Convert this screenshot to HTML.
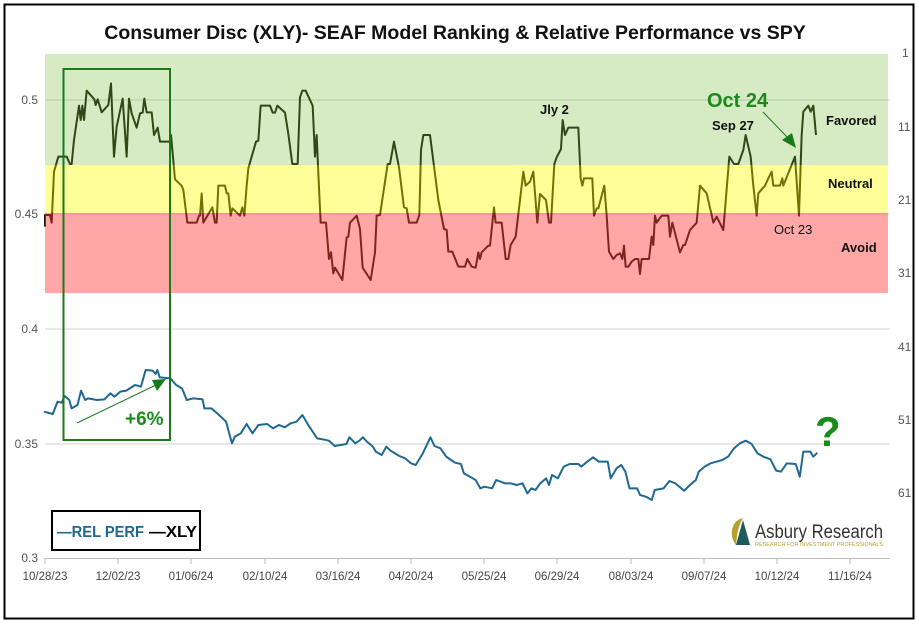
<!DOCTYPE html>
<html><head><meta charset="utf-8"><style>
body{margin:0;background:#fff;}
svg{display:block;font-family:"Liberation Sans",sans-serif;}
</style></head><body>
<svg width="919" height="624" viewBox="0 0 919 624" xmlns="http://www.w3.org/2000/svg">
<rect x="0" y="0" width="919" height="624" fill="#fff"/>
<rect x="4.5" y="4.5" width="909" height="614" fill="none" stroke="#000" stroke-width="2"/>
<text x="455" y="39" text-anchor="middle" font-size="19.5" font-weight="bold" fill="#111">Consumer Disc (XLY)- SEAF Model Ranking &amp; Relative Performance vs SPY</text>
<!-- gridlines -->
<g stroke="#d0d0d0" stroke-width="1">
<line x1="45" y1="100" x2="890" y2="100"/>
<line x1="45" y1="214" x2="890" y2="214"/>
<line x1="45" y1="329" x2="890" y2="329"/>
<line x1="45" y1="444" x2="890" y2="444"/>
<line x1="45" y1="558.5" x2="890" y2="558.5" stroke="#bbb"/>
</g>
<g font-size="12" fill="#555">
<text x="38" y="104" text-anchor="end">0.5</text>
<text x="38" y="218" text-anchor="end">0.45</text>
<text x="38" y="333" text-anchor="end">0.4</text>
<text x="38" y="448" text-anchor="end">0.35</text>
<text x="38" y="562" text-anchor="end">0.3</text>
<text x="902" y="57">1</text>
<text x="898" y="131">11</text>
<text x="898" y="204">21</text>
<text x="898" y="277">31</text>
<text x="898" y="351">41</text>
<text x="898" y="424">51</text>
<text x="898" y="497">61</text>
</g>
<g font-size="11.5" fill="#444" text-anchor="middle">
<text x="45" y="580">10/28/23</text><text x="118" y="580">12/02/23</text><text x="191" y="580">01/06/24</text>
<text x="265" y="580">02/10/24</text><text x="338" y="580">03/16/24</text><text x="411" y="580">04/20/24</text>
<text x="484" y="580">05/25/24</text><text x="557" y="580">06/29/24</text><text x="631" y="580">08/03/24</text>
<text x="704" y="580">09/07/24</text><text x="777" y="580">10/12/24</text><text x="850" y="580">11/16/24</text>
</g>
<g stroke="#bbb"><line x1="45" y1="558" x2="45" y2="564"/><line x1="118" y1="558" x2="118" y2="564"/><line x1="191" y1="558" x2="191" y2="564"/><line x1="265" y1="558" x2="265" y2="564"/><line x1="338" y1="558" x2="338" y2="564"/><line x1="411" y1="558" x2="411" y2="564"/><line x1="484" y1="558" x2="484" y2="564"/><line x1="557" y1="558" x2="557" y2="564"/><line x1="631" y1="558" x2="631" y2="564"/><line x1="704" y1="558" x2="704" y2="564"/><line x1="777" y1="558" x2="777" y2="564"/><line x1="850" y1="558" x2="850" y2="564"/></g>
<!-- XLY rank line -->
<g transform="translate(0,40) scale(0.33333)">
<polyline fill="none" stroke="#151505" stroke-width="2" vector-effect="non-scaling-stroke" stroke-linejoin="round" points="135,560 135,525 150,525 155,548 162,395 175,350 200,350 210,372 215,372 222,300 237,197 242,240 247,197 252,240 260,152 283,178 287,195 293,178 305,217 325,195 333,130 342,350 350,260 368,176 380,350 387,176 395,220 410,263 420,220 428,218 433,176 440,217 455,217 462,285 473,263 480,305 510,305 513,285 525,418 545,437 550,450 562,548 590,548 597,527 600,527 605,460 610,548 637,502 645,548 650,548 655,437 675,437 680,460 685,460 692,527 697,505 720,527 727,502 733,527 740,437 745,385 768,305 775,302 782,197 810,197 818,218 825,218 832,197 855,218 865,282 877,372 893,372 900,172 907,152 917,152 938,197 945,350 950,285 955,400 962,548 978,548 987,657 993,637 1000,700 1005,683 1027,720 1040,592 1045,590 1050,548 1070,527 1080,567 1088,683 1112,720 1125,637 1130,527 1140,525 1163,372 1170,372 1182,305 1197,382 1212,502 1220,505 1227,548 1250,548 1258,525 1263,330 1270,285 1290,285 1315,480 1332,567 1340,570 1345,635 1357,635 1375,680 1380,680"/>
<g transform="translate(1380,0)">
<polyline fill="none" stroke="#151505" stroke-width="2" vector-effect="non-scaling-stroke" stroke-linejoin="round" points="0,680 15,680 22,657 35,680 47,683 55,637 60,657 65,637 85,617 90,617 102,502 107,548 125,548 137,657 145,657 152,615 167,590 180,480 190,395 197,437 210,425 220,395 232,548 240,462 258,480 267,548 273,548 283,372 290,352 303,327 308,240 315,285 325,263 355,263 362,415 367,437 372,415 397,415 402,527 410,505 415,505 433,437 440,527 447,635 460,657 470,645 480,640 487,657 492,617 497,680 505,680 515,665 525,657 535,657 540,702 545,657 567,657 575,590 580,615 585,527 590,548 605,527 625,527 630,590 637,548 660,637 670,615 675,615 690,570 710,548 720,437 740,460 755,525 760,548 770,530 790,570 808,350 822,372 835,372 850,330 857,285 872,350 880,437 890,527 895,460 915,437 925,415 935,395 940,437 960,437 967,415 970,437 1005,350 1017,527 1025,285 1030,215 1045,197 1052,215 1060,197 1068,285"/>
</g>
</g>
<!-- bands -->
<rect x="45" y="54" width="843" height="111" fill="rgb(120,190,60)" fill-opacity="0.3"/>
<rect x="45" y="165" width="843" height="48" fill="rgb(255,255,0)" fill-opacity="0.4"/>
<rect x="45" y="213" width="843" height="80" fill="rgb(255,60,60)" fill-opacity="0.45"/>
<!-- blue line -->
<g transform="translate(0,320) scale(0.5872,0.33333)">
<polyline fill="none" stroke="#1f6891" stroke-width="2" vector-effect="non-scaling-stroke" stroke-linejoin="round" points="75,275 90,282 98,245 105,248 110,228 118,240 122,265 132,255 138,212 145,240 150,235 165,240 178,238 188,220 195,230 205,215 215,212 230,195 240,200 248,150 260,152 265,162 268,150 272,172 290,175 300,195 310,205 318,240 330,235 345,238 348,265 360,265 370,280 385,305 395,370 400,350 410,340 420,312 430,340 440,315 455,312 465,325 475,315 485,322 495,310 505,305 515,285 525,315 540,355 550,358 560,362 570,378 580,375 590,372 595,352 605,370 612,362 618,352 625,365 635,380 640,395 650,405 658,380 665,392 680,408 690,415 700,430 708,435 720,400 733,352 740,378 750,385 760,410 768,420 775,428 785,432 790,460 800,470 810,480 818,505 825,500 838,505 845,480 860,490 870,490 880,495 890,490 898,520 905,505 912,510 920,490 930,475 935,495 940,465 950,475 960,440 970,432 985,432 990,440 1000,425 1010,412 1020,425 1035,425 1040,475 1050,445 1058,435 1065,455 1072,505 1085,505 1090,525 1100,530 1110,540 1115,510 1130,505 1140,483 1150,490 1165,512 1175,495 1185,480 1190,455 1200,440 1210,430 1220,425 1230,420 1240,410 1250,385 1260,370 1270,362 1280,372 1290,400 1300,410 1312,418 1322,452 1330,455 1340,430 1355,432 1362,470 1368,395 1380,395 1385,410 1392,398"/>
</g>
<!-- green box -->
<rect x="63.5" y="69" width="106.5" height="371" fill="none" stroke="#1a7a1a" stroke-width="2"/>
<line x1="77" y1="423" x2="158" y2="384" stroke="#1a7a1a" stroke-width="1"/>
<polygon points="166,379 152,380 157,391" fill="#1a7a1a"/>
<text x="125" y="425" font-size="19" font-weight="bold" fill="#1a8a1a">+6%</text>
<text x="815" y="446" font-size="42" font-weight="bold" fill="#1a8a1a">?</text>
<text x="707" y="107" font-size="20" font-weight="bold" fill="#1a8a1a">Oct 24</text>
<line x1="763" y1="112" x2="790" y2="140" stroke="#1a7a1a" stroke-width="1"/>
<polygon points="796,148 782,140 792,133" fill="#1a7a1a"/>
<g font-size="13" font-weight="bold" fill="#111">
<text x="540" y="114">Jly 2</text>
<text x="712" y="130">Sep 27</text>
<text x="826" y="125">Favored</text>
<text x="828" y="188">Neutral</text>
<text x="841" y="252">Avoid</text>
</g>
<text x="774" y="234" font-size="13" fill="#111">Oct 23</text>
<!-- legend -->
<rect x="52" y="511" width="148" height="39" fill="#fff" stroke="#000" stroke-width="2"/>
<text x="57" y="537" font-size="16" font-weight="bold" fill="#1f6891" textLength="87" lengthAdjust="spacingAndGlyphs">—REL PERF</text>
<text x="149" y="537" font-size="16" font-weight="bold" fill="#000" textLength="48" lengthAdjust="spacingAndGlyphs">—XLY</text>
<!-- logo -->
<polygon points="736,545 743,520 750,545" fill="#1f5a5a"/>
<path d="M736,545 C728,535 732,520 743,518 C737,528 737,538 736,545Z" fill="#b8a030"/>
<text x="755" y="538" font-size="19" fill="#333" textLength="128" lengthAdjust="spacingAndGlyphs">Asbury Research</text>
<text x="755" y="546" font-size="5.5" fill="#b8a030" textLength="128" lengthAdjust="spacingAndGlyphs">RESEARCH FOR INVESTMENT PROFESSIONALS</text>
</svg>
</body></html>
